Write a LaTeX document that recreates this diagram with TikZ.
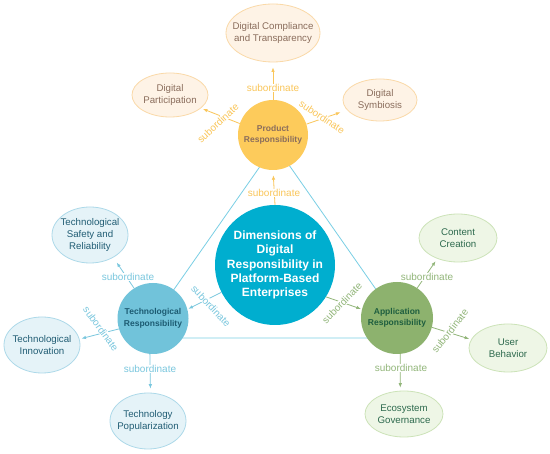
\documentclass[tikz,border=0pt]{standalone}
\usepackage{fontspec}
\setmainfont{Liberation Sans}
\usetikzlibrary{shapes.geometric,arrows.meta}
\definecolor{centerC}{HTML}{00AECF}
\definecolor{prodC}{HTML}{FDCB5B}
\definecolor{techC}{HTML}{71C3DA}
\definecolor{appC}{HTML}{8DB26E}
\definecolor{prodCT}{HTML}{8A6D5C}
\definecolor{techCT}{HTML}{1C5B72}
\definecolor{appCT}{HTML}{1E5E3F}
\definecolor{pEllF}{HTML}{FEF3E6}
\definecolor{pEllB}{HTML}{FAD9A8}
\definecolor{pEllT}{HTML}{8A6D5C}
\definecolor{tEllF}{HTML}{E5F3F8}
\definecolor{tEllB}{HTML}{ADD9E9}
\definecolor{tEllT}{HTML}{215D74}
\definecolor{aEllF}{HTML}{EEF6E6}
\definecolor{aEllB}{HTML}{CCE3B8}
\definecolor{aEllT}{HTML}{2E6A4E}
\definecolor{pLab}{HTML}{FAC65A}
\definecolor{tLab}{HTML}{7AC7DE}
\definecolor{aLab}{HTML}{92B67A}
\definecolor{triC}{HTML}{7ACFE5}
\begin{document}
\begin{tikzpicture}[x=1pt,y=-1pt,
  tri/.style={draw=triC, line width=0.8pt},
  bigcirc/.style={circle, inner sep=0pt, minimum size=#1},
  ctext/.style={align=center, font=\bfseries\fontsize{8.5}{11.5}\selectfont},
  etext/.style={align=center, font=\fontsize{9.7}{11.7}\selectfont},
  pell/.style={ellipse, draw=pEllB, fill=pEllF, line width=0.8pt, inner sep=0pt},
  tell/.style={ellipse, draw=tEllB, fill=tEllF, line width=0.8pt, inner sep=0pt},
  aell/.style={ellipse, draw=aEllB, fill=aEllF, line width=0.8pt, inner sep=0pt},
  parr/.style={draw=pLab, line width=0.8pt, -{Latex[length=4.5pt,width=3.5pt]}},
  tarr/.style={draw=tLab, line width=0.8pt, -{Latex[length=4.5pt,width=3.5pt]}},
  aarr/.style={draw=aLab, line width=0.8pt, -{Latex[length=4.5pt,width=3.5pt]}},
  lab/.style={fill=white, inner sep=0.5pt, font=\fontsize{10}{12}\selectfont},
  plab/.style={lab, text=pLab},
  tlab/.style={lab, text=tLab},
  alab/.style={lab, text=aLab}]
\useasboundingbox[fill=white] (0,0) rectangle (550,454);

% triangle
\coordinate (v1) at (275,145);
\coordinate (v2) at (140,338);
\coordinate (v3) at (410,338);
\draw[tri] (v1) -- (v2) -- (v3) -- cycle;

% circles
\node[bigcirc=120pt, fill=centerC,
  label={[align=center, text=white, font=\bfseries\fontsize{12}{14.2}\selectfont]center:{Dimensions of\\Digital\\Responsibility in\\Platform-Based\\Enterprises}}] (M) at (275,265) {};
\node[bigcirc=70pt, fill=prodC,
  label={[ctext, text=prodCT]center:{Product\\Responsibility}}] (P) at (273,135) {};
\node[bigcirc=71pt, fill=techC,
  label={[ctext, text=techCT]center:{Technological\\Responsibility}}] (T) at (153,318.5) {};
\node[bigcirc=72pt, fill=appC,
  label={[ctext, text=appCT]center:{Application\\Responsibility}}] (A) at (397,318) {};

% product ellipses
\node[pell, minimum width=94pt, minimum height=58pt,
  label={[etext, text=pEllT]center:{Digital Compliance\\and Transparency}}] (C1) at (273,33) {};
\node[pell, minimum width=76pt, minimum height=44pt,
  label={[etext, text=pEllT]center:{Digital\\Participation}}] (C2) at (170,95) {};
\node[pell, minimum width=74pt, minimum height=42pt,
  label={[etext, text=pEllT]center:{Digital\\Symbiosis}}] (C3) at (380,100) {};

% technological ellipses
\node[tell, minimum width=76pt, minimum height=56pt,
  label={[etext, text=tEllT]center:{Technological\\Safety and\\Reliability}}] (E1) at (90,235) {};
\node[tell, minimum width=76pt, minimum height=56pt,
  label={[etext, text=tEllT]center:{Technological\\Innovation}}] (E2) at (42,345) {};
\node[tell, minimum width=76pt, minimum height=56pt,
  label={[etext, text=tEllT]center:{Technology\\Popularization}}] (E3) at (148,421) {};

% application ellipses
\node[aell, minimum width=78pt, minimum height=48pt,
  label={[etext, text=aEllT]center:{Content\\Creation}}] (F1) at (458,238) {};
\node[aell, minimum width=78pt, minimum height=48pt,
  label={[etext, text=aEllT]center:{User\\Behavior}}] (F2) at (508,348) {};
\node[aell, minimum width=78pt, minimum height=46pt,
  label={[etext, text=aEllT]center:{Ecosystem\\Governance}}] (F3) at (404,414) {};

% connectors
\draw[parr, shorten >=5pt] (P.90) -- (C1.-90);
\draw[parr, shorten >=2pt] (P.161) -- (C2.-23);
\draw[parr, shorten >=7pt] (P.18) -- (C3.197);
\draw[parr, shorten >=5pt] (M.90) -- (P.-90);
\draw[tarr, shorten >=1pt] (M.207) -- (T.15);
\draw[aarr, shorten >=1pt] (M.-32) -- (A.166);
\draw[tarr, shorten >=6pt] (T.122) -- (E1.-44);
\draw[tarr, shorten >=2pt] (T.197) -- (E2.9);
\draw[tarr, shorten >=4pt] (T.-95) -- (E3.85);
\draw[aarr, shorten >=3pt] (A.56) -- (F1.225);
\draw[aarr, shorten >=2pt] (A.-15) -- (F2.167);
\draw[aarr, shorten >=3pt] (A.-85) -- (F3.99);

% labels
\node[plab] (l1) at (273,88) {subordinate};
\node[plab, rotate=43] (l2) at (218,123) {subordinate};
\node[plab, rotate=-34] (l3) at (322,117) {subordinate};
\node[plab] (l4) at (274,193) {subordinate};
\node[tlab, rotate=-47] (l5) at (211,306) {subordinate};
\node[alab, rotate=46] (l6) at (342,303) {subordinate};
\node[tlab] (l7) at (128,277) {subordinate};
\node[tlab, rotate=-54] (l8) at (101,329) {subordinate};
\node[tlab] (l9) at (150,369) {subordinate};
\node[alab] (l10) at (427,277) {subordinate};
\node[alab, rotate=52] (l11) at (450,331) {subordinate};
\node[alab] (l12) at (401,368) {subordinate};
\end{tikzpicture}
\end{document}
